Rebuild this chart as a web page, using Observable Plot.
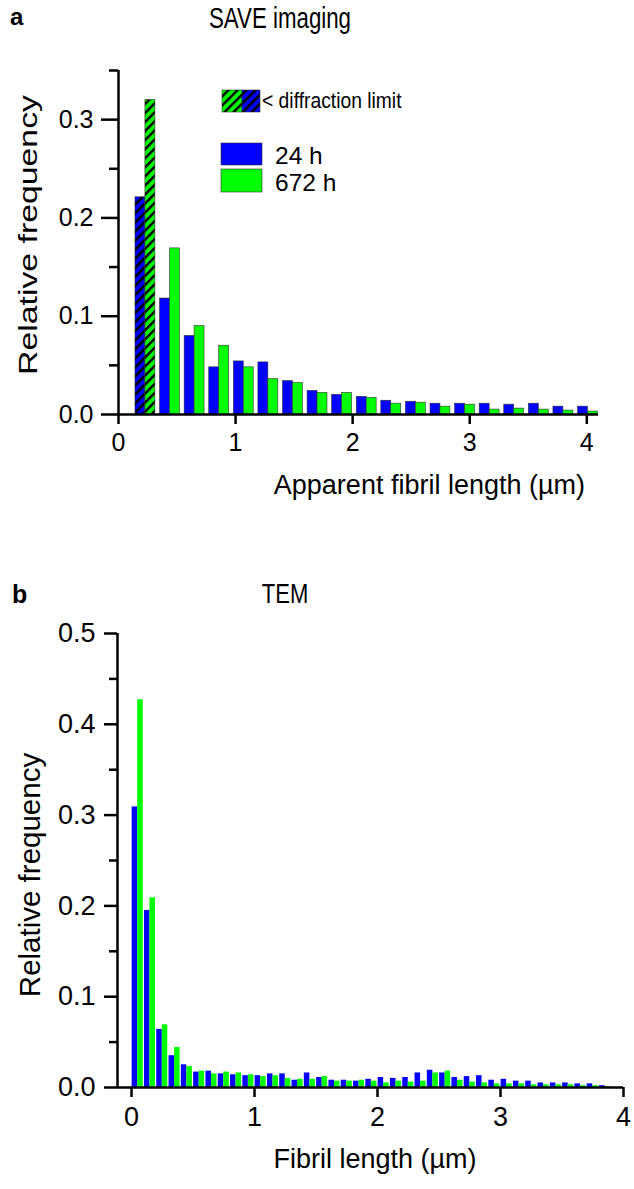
<!DOCTYPE html>
<html><head><meta charset="utf-8">
<script src="https://cdn.jsdelivr.net/npm/d3@7"></script>
<script src="https://cdn.jsdelivr.net/npm/@observablehq/plot@0.6"></script>
<style>
html,body{margin:0;padding:0;background:#fff;}
body{width:634px;height:1189px;position:relative;overflow:hidden;font-family:Arial,"Liberation Sans",sans-serif;}
#pa{position:absolute;left:0;top:30px;}
#pb{position:absolute;left:0;top:600px;}
#overlay{position:absolute;left:0;top:0;pointer-events:none;}
</style></head><body>
<svg width="1" height="1" style="position:absolute;left:0;top:0">
<defs>
<pattern id="hatchBlue" patternUnits="userSpaceOnUse" width="6.4" height="10" patternTransform="rotate(45)">
<rect width="6.4" height="10" fill="#0000ff"/><rect width="2.5" height="10" fill="#000"/>
</pattern>
<pattern id="hatchGreen" patternUnits="userSpaceOnUse" width="6.4" height="10" patternTransform="rotate(45)">
<rect width="6.4" height="10" fill="#00ff00"/><rect width="2.5" height="10" fill="#000"/>
</pattern>
</defs></svg>
<div id="pa"></div>
<div id="pb"></div>
<svg id="overlay" width="634" height="1189" font-family="Arial, 'Liberation Sans', sans-serif" fill="#000">
<text x="10" y="25" font-size="24" font-weight="bold">a</text>
<text transform="translate(280,28) scale(1,1.33)" font-size="22.3" text-anchor="middle">SAVE imaging</text>
<text transform="translate(37,235) scale(1,1.3) rotate(-90)" font-size="26" text-anchor="middle">Relative frequency</text>
<text x="585" y="494" font-size="27" text-anchor="end">Apparent fibril length (µm)</text>
<text x="12" y="603" font-size="25" font-weight="bold">b</text>
<text transform="translate(285,603) scale(1,1.28)" font-size="22" text-anchor="middle">TEM</text>
<text transform="translate(40,875) rotate(-90)" font-size="29.5" text-anchor="middle">Relative frequency</text>
<text x="375" y="1168" font-size="27" text-anchor="middle">Fibril length (µm)</text>
<!-- legend -->
<rect x="222" y="90" width="20" height="22" fill="url(#hatchGreen)" stroke="#333" stroke-width="0.6"/>
<rect x="242" y="90" width="18" height="22" fill="url(#hatchBlue)" stroke="#333" stroke-width="0.6"/>
<text transform="translate(262,108) scale(1,1.15)" font-size="19.3">&lt; diffraction limit</text>
<rect x="221" y="143" width="41" height="22" fill="#0000ff" stroke="#333" stroke-width="0.6"/>
<rect x="221" y="169" width="41" height="23" fill="#00ff00" stroke="#333" stroke-width="0.6"/>
<text x="275" y="163.5" font-size="24.5">24 h</text>
<text x="275" y="190.5" font-size="24.5">672 h</text>
</svg>
<script>
// ---------- Panel a: SAVE imaging ----------
const binA = [0.23,0.44,0.65,0.86,1.07,1.28,1.49,1.70,1.91,2.12,2.33,2.54,2.75,2.96,3.17,3.38,3.59,3.80,4.01];
const a24  = [0.221,0.118,0.080,0.048,0.054,0.053,0.034,0.024,0.020,0.018,0.014,0.013,0.011,0.011,0.011,0.010,0.011,0.008,0.008];
const a672 = [0.320,0.169,0.090,0.070,0.048,0.036,0.032,0.022,0.022,0.017,0.011,0.012,0.008,0.010,0.005,0.006,0.005,0.004,0.003];
const belowLimitA = [true,false,false,false,false,false,false,false,false,false,false,false,false,false,false,false,false,false,false];
const yMajorA = [0,0.1,0.2,0.3];
const yMinorA = [0.05,0.15,0.25,0.35];
const xTicksA = [0,1,2,3,4];

// ---------- Panel b: TEM ----------
const binB = [0.05,0.15,0.25,0.35,0.45,0.55,0.65,0.75,0.85,0.95,1.05,1.15,1.25,1.35,1.45,1.55,1.65,1.75,1.85,1.95,2.05,2.15,2.25,2.35,2.45,2.55,2.65,2.75,2.85,2.95,3.05,3.15,3.25,3.35,3.45,3.55,3.65,3.75,3.85];
const b24  = [0.309,0.195,0.064,0.035,0.025,0.017,0.018,0.015,0.014,0.013,0.013,0.015,0.015,0.008,0.016,0.011,0.008,0.008,0.007,0.009,0.011,0.010,0.011,0.016,0.019,0.016,0.011,0.012,0.013,0.008,0.009,0.007,0.007,0.005,0.005,0.005,0.004,0.004,0.002];
const b672 = [0.427,0.209,0.069,0.044,0.023,0.018,0.015,0.017,0.016,0.014,0.012,0.013,0.010,0.009,0.009,0.012,0.007,0.007,0.008,0.007,0.005,0.007,0.006,0.007,0.016,0.018,0.008,0.006,0.005,0.004,0.004,0.004,0.003,0.003,0.003,0.003,0.002,0.002,0.001];
const yMajorB = [0,0.1,0.2,0.3,0.4,0.5];
const yMinorB = [0.05,0.15,0.25,0.35,0.45];
const xTicksB = [0,1,2,3,4];

const BLUE = "#0000ff", GREEN = "#00ff00";
const font = "Arial, 'Liberation Sans', sans-serif";

const rowsA = binA.map((c, i) => ({c, v24: a24[i], v672: a672[i], below: belowLimitA[i]}));
const hwA = 0.085; // half pair width (style)
const sw = 2.5;

const plotA = Plot.plot({
  width: 634, height: 490,
  marginLeft: 118, marginRight: 36, marginTop: 40, marginBottom: 106,
  x: {domain: [0, 4.1]},
  y: {domain: [0, 0.35]},
  style: {fontFamily: font, color: "#000", background: "transparent", overflow: "visible"},
  marks: [
    Plot.rectY(rowsA.filter(d => !d.below), {x1: d => d.c - hwA, x2: d => d.c, y: "v24", fill: BLUE, stroke: "#333", strokeWidth: 0.6}),
    Plot.rectY(rowsA.filter(d => !d.below), {x1: d => d.c, x2: d => d.c + hwA, y: "v672", fill: GREEN, stroke: "#333", strokeWidth: 0.6}),
    Plot.rectY(rowsA.filter(d => d.below), {x1: d => d.c - hwA, x2: d => d.c, y: "v24", fill: "url(#hatchBlue)", stroke: "#333", strokeWidth: 0.6}),
    Plot.rectY(rowsA.filter(d => d.below), {x1: d => d.c, x2: d => d.c + hwA, y: "v672", fill: "url(#hatchGreen)", stroke: "#333", strokeWidth: 0.6}),
    Plot.axisY(yMajorA, {tickSize: 17, tickPadding: 8, fontSize: 25, strokeWidth: sw, tickFormat: d3.format(".1f"), label: null}),
    Plot.axisY(yMinorA, {tickSize: 9, strokeWidth: sw, text: null, label: null}),
    Plot.axisX(xTicksA, {tickSize: 10, tickPadding: 9, fontSize: 25, strokeWidth: sw, tickFormat: d3.format("d"), label: null}),
    Plot.ruleX([0], {y1: 0, y2: 0.35, strokeWidth: sw}),
    Plot.ruleY([0], {x1: 0, x2: 4.1, strokeWidth: sw})
  ]
});
document.getElementById("pa").append(plotA);

const rowsB = binB.map((c, i) => ({c, v24: b24[i], v672: b672[i]}));
const wB = 0.045;
const plotB = Plot.plot({
  width: 634, height: 589,
  marginLeft: 117, marginRight: 11, marginTop: 33, marginBottom: 102,
  x: {domain: [-0.114, 4]},
  y: {domain: [0, 0.5]},
  style: {fontFamily: font, color: "#000", background: "transparent", overflow: "visible"},
  marks: [
    Plot.rectY(rowsB, {x1: d => d.c - wB, x2: d => d.c, y: "v24", fill: BLUE}),
    Plot.rectY(rowsB, {x1: d => d.c, x2: d => d.c + wB, y: "v672", fill: GREEN}),
    Plot.axisY(yMajorB, {tickSize: 13, tickPadding: 9, fontSize: 27, strokeWidth: sw, tickFormat: d3.format(".1f"), label: null}),
    Plot.axisY(yMinorB, {tickSize: 8, strokeWidth: sw, text: null, label: null}),
    Plot.axisX(xTicksB, {tickSize: 10, tickPadding: 9, fontSize: 27, strokeWidth: sw, tickFormat: d3.format("d"), label: null}),
    Plot.ruleX([-0.114], {y1: 0, y2: 0.5, strokeWidth: sw}),
    Plot.ruleY([0], {x1: -0.114, x2: 4, strokeWidth: sw})
  ]
});
document.getElementById("pb").append(plotB);
</script>
</body></html>
